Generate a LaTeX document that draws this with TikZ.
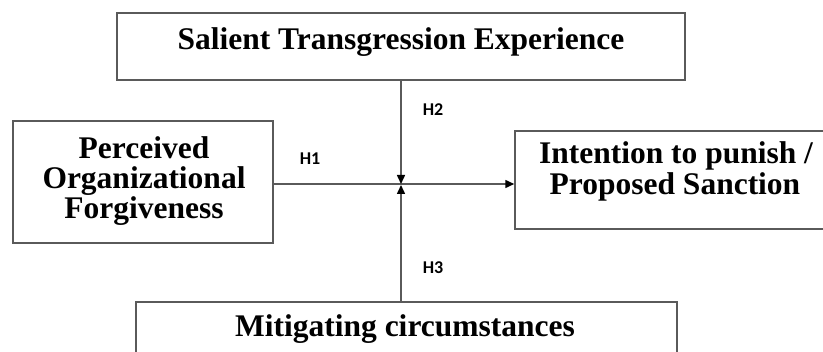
\documentclass[tikz,border=0pt]{standalone}
\usepackage{fontspec}
\setmainfont{Liberation Serif}
\newfontfamily\hfont{Carlito}
\usetikzlibrary{arrows.meta}
\definecolor{linegray}{HTML}{5A5A5A}
\tikzset{
  box/.style={draw=linegray, line width=1.5pt, rectangle, inner sep=0pt},
  boxtext/.style={font=\bfseries\fontsize{31.5}{30}\selectfont, align=center, inner sep=0pt, text=black},
  hlabel/.style={font=\hfont\bfseries\fontsize{18}{18}\selectfont, inner sep=0pt, text=black},
  conn/.style={draw=linegray, line width=1.5pt, -{Triangle[length=9pt,width=8pt,color=black]}}
}
\begin{document}
\begin{tikzpicture}[x=1pt,y=-1pt]
\useasboundingbox (0,0) rectangle (823,352);
\clip (0,0) rectangle (823,352);
% boxes
\node[box, minimum width=568pt, minimum height=67pt] (top) at (401,46.5) {};
\node[box, minimum width=260pt, minimum height=122pt] (left) at (143,182) {};
\node[box, minimum width=325pt, minimum height=98pt] (right) at (677.5,180) {};
\node[box, minimum width=541pt, minimum height=68pt] (bottom) at (406.5,336) {};
% texts
\node[boxtext, anchor=base] (toptext) at (401,49.5) {Salient Transgression Experience};
\node[boxtext, anchor=base] (lefttext1) at (144,158.5) {Perceived};
\node[boxtext, anchor=base] (lefttext2) at (144,189) {Organizational};
\node[boxtext, anchor=base] (lefttext3) at (144,219) {Forgiveness};
\node[boxtext, anchor=base] (righttext1) at (676,164) {Intention to punish /};
\node[boxtext, anchor=base] (righttext2) at (675,195) {Proposed Sanction};
\node[boxtext, anchor=base] (bottomtext) at (405,337) {Mitigating circumstances};
% junction
\coordinate (j) at (401,184);
\coordinate (jt) at (401,184);
\coordinate (jb) at (401,185);
% connectors
\draw[conn] (left.east |- j) -- (right.west |- j);
\draw[conn] (top.south -| j) -- (jt);
\draw[conn] (bottom.north -| j) -- (jb);
% labels
\node[hlabel] (h1) at (310,159) {H1};
\node[hlabel] (h2) at (433,110) {H2};
\node[hlabel] (h3) at (433,268) {H3};
\end{tikzpicture}
\end{document}
